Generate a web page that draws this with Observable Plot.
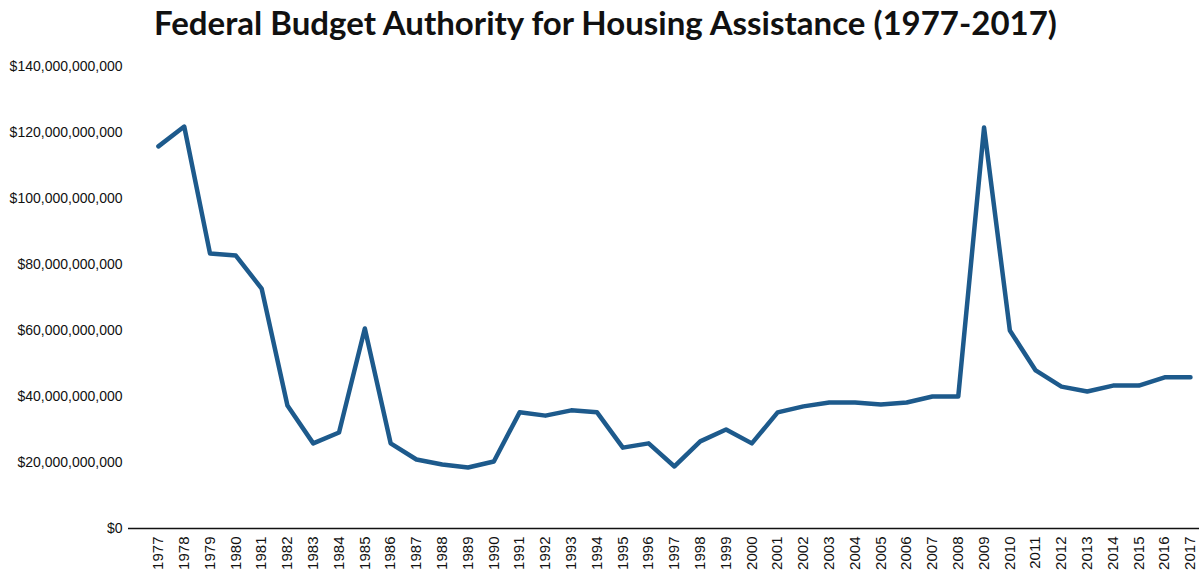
<!DOCTYPE html>
<html>
<head>
<meta charset="utf-8">
<script src="https://cdn.jsdelivr.net/npm/d3@7"></script>
<script src="https://cdn.jsdelivr.net/npm/@observablehq/plot@0.6"></script>
<style>
  html, body { margin: 0; padding: 0; background: #fff; }
  #title {
    height: 45px; line-height: 44px; text-align: center;
    font-family: Lato, "Open Sans", sans-serif; font-weight: 700;
    font-size: 33px; color: #111; padding-left: 12px; letter-spacing: 0px;
    white-space: nowrap;
  }
  #chart svg { display: block; }
  #chart svg g[aria-label="x-axis tick label"] text { font-size: 15px; }
</style>
</head>
<body>
<div id="title">Federal Budget Authority for Housing Assistance (1977-2017)</div>
<div id="chart"></div>
<script>
const years = [1977,1978,1979,1980,1981,1982,1983,1984,1985,1986,1987,1988,1989,1990,
  1991,1992,1993,1994,1995,1996,1997,1998,1999,2000,2001,2002,2003,2004,2005,2006,
  2007,2008,2009,2010,2011,2012,2013,2014,2015,2016,2017];
const budgetAuthority = [115.8,121.8,83.3,82.7,72.7,37.3,25.8,29.1,60.6,25.8,20.9,19.4,18.5,20.3,
  35.2,34.2,35.8,35.2,24.5,25.8,18.8,26.4,30.0,25.8,35.2,37.0,38.2,38.2,37.6,38.2,
  40.0,40.0,121.5,60.0,47.9,43.0,41.5,43.3,43.3,45.8,45.8].map(v => v * 1e9);
const yTicks = [0,20e9,40e9,60e9,80e9,100e9,120e9,140e9];

const data = years.map((y, i) => ({year: y, value: budgetAuthority[i]}));
const fmt = d => d === 0 ? "$0" : "$" + d3.format(",")(d);

const chart = Plot.plot({
  width: 1199,
  height: 532,
  marginLeft: 128,
  marginRight: 0,
  marginTop: 21,
  marginBottom: 49,
  style: {fontFamily: "'Liberation Sans', Arial, sans-serif", fontSize: "14px", color: "#111", background: "#fff"},
  x: {domain: [1975.84, 2017.35], ticks: years, tickFormat: d => String(d), tickRotate: -90, tickSize: 0, tickPadding: 8, label: null},
  y: {domain: [0, 140e9], ticks: yTicks, tickFormat: fmt, tickSize: 0, tickPadding: 6, label: null},
  marks: [
    Plot.ruleY([0], {stroke: "#111", strokeWidth: 1.5}),
    Plot.lineY(data, {x: "year", y: "value", stroke: "#1d5a8c", strokeWidth: 4.5, strokeLinejoin: "round", strokeLinecap: "round"})
  ]
});
document.getElementById("chart").appendChild(chart);
</script>
</body>
</html>
